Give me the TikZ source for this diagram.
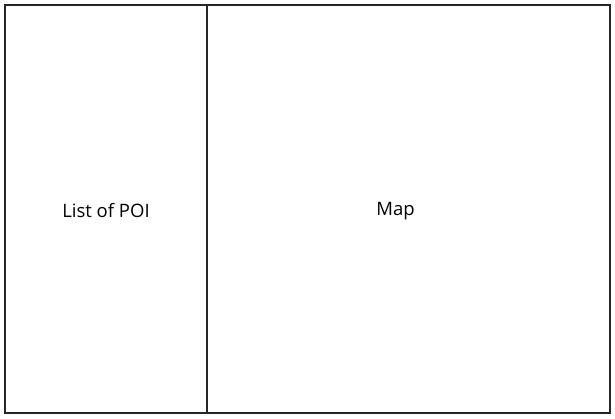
\documentclass[tikz,border=0pt]{standalone}
\usepackage{fontspec}
\setmainfont{Open Sans}
\usetikzlibrary{positioning}
\begin{document}
\begin{tikzpicture}[x=1bp, y=-1bp,
		panel/.style={inner sep=0pt, outer sep=0pt, minimum height=408bp},
		frame/.style={draw=black!85, line width=1.4bp},
		label/.style={font=\fontsize{18.5bp}{20bp}\selectfont, text=black}
		]
	\useasboundingbox (0,0) rectangle (615,418);
	\node [panel, minimum width=202bp, anchor=north west] (poi) at (5,5) {};
	\node [panel, minimum width=403bp, anchor=north west] (map) at (poi.north east) {};
	\draw [frame] (poi.north west) rectangle (map.south east);
	\draw [frame] (poi.north east) -- (poi.south east);
	\node [label] (poitext) at ([yshift=-2bp]poi.center) {List of POI};
	\node [label] (maptext) at ([xshift=-13bp, yshift=-2bp]map.center) {Map};
\end{tikzpicture}
\end{document}
